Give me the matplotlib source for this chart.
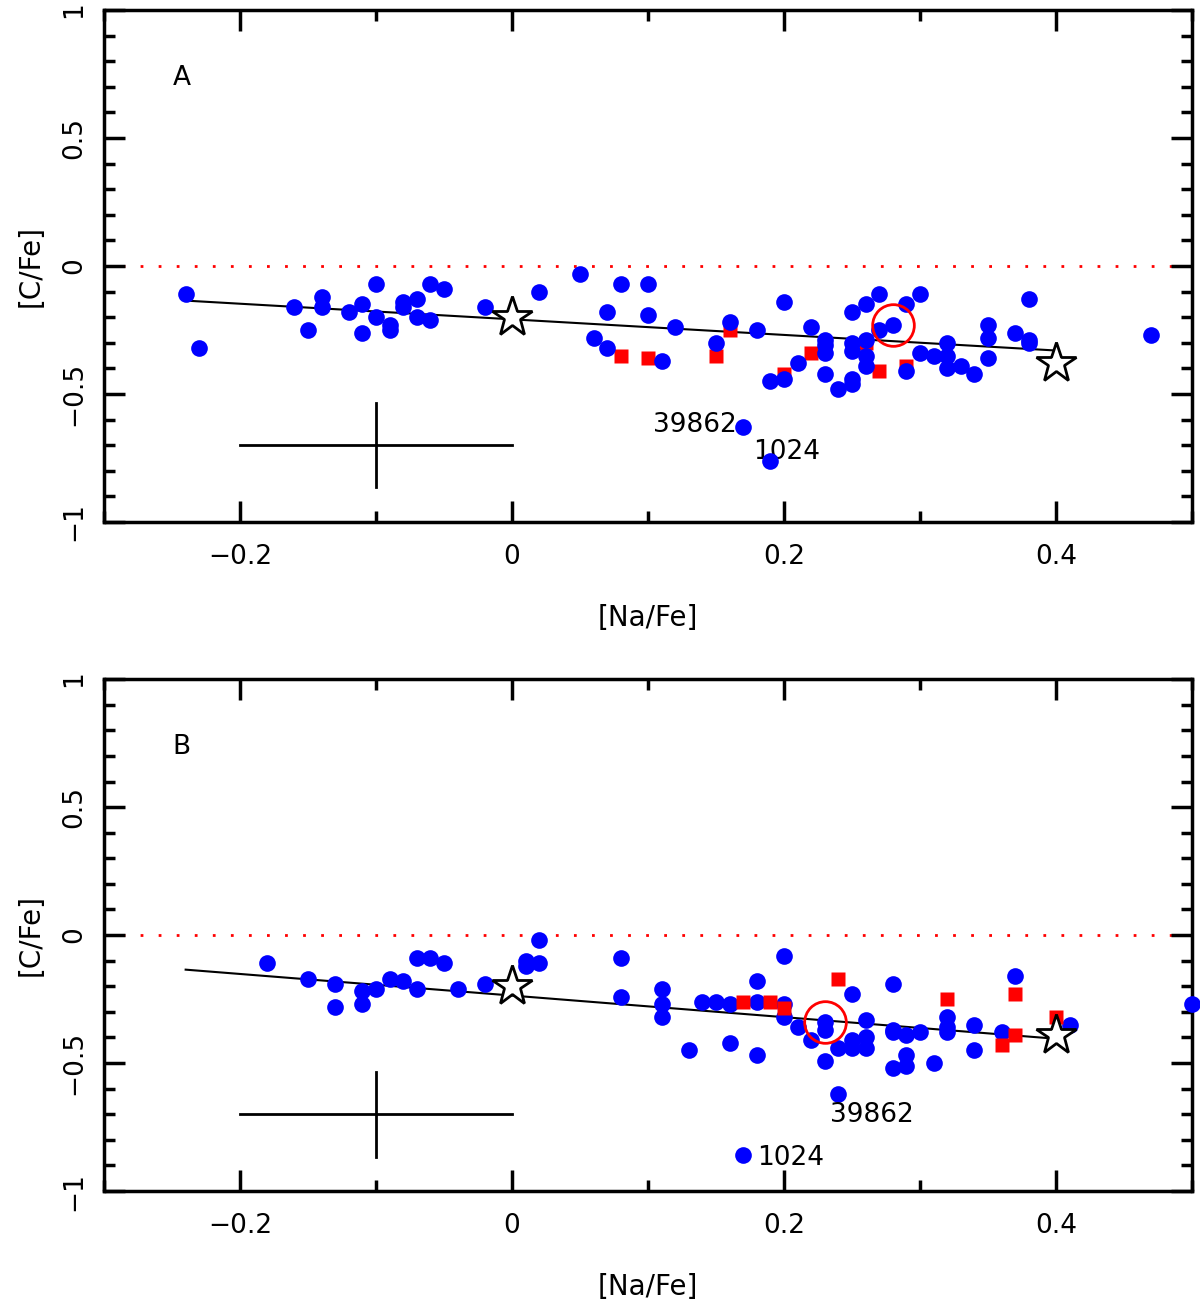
import matplotlib
matplotlib.use("Agg")
import matplotlib.pyplot as plt
from matplotlib.ticker import MultipleLocator

# panel A data ([Na/Fe], [C/Fe])
a_blue_x = [-0.24, -0.23, -0.16, -0.15, -0.14, -0.14, -0.12, -0.11, -0.11, -0.10, -0.10,
            -0.09, -0.09, -0.08, -0.08, -0.07, -0.07, -0.06, -0.06, -0.05, -0.02, 0.02,
            0.05, 0.06, 0.07, 0.07, 0.08, 0.10, 0.10, 0.11, 0.12, 0.15, 0.16, 0.17, 0.18,
            0.19, 0.19, 0.20, 0.20, 0.21, 0.22, 0.23, 0.23, 0.23, 0.23, 0.24, 0.25, 0.25,
            0.25, 0.25, 0.25, 0.26, 0.26, 0.26, 0.26, 0.27, 0.27, 0.28, 0.29, 0.29, 0.30,
            0.30, 0.31, 0.32, 0.32, 0.32, 0.33, 0.34, 0.35, 0.35, 0.35, 0.37, 0.38, 0.38,
            0.38, 0.47]
a_blue_y = [-0.11, -0.32, -0.16, -0.25, -0.12, -0.16, -0.18, -0.15, -0.26, -0.07, -0.20,
            -0.23, -0.25, -0.14, -0.16, -0.13, -0.20, -0.07, -0.21, -0.09, -0.16, -0.10,
            -0.03, -0.28, -0.18, -0.32, -0.07, -0.07, -0.19, -0.37, -0.24, -0.30, -0.22, -0.63, -0.25,
            -0.45, -0.76, -0.14, -0.44, -0.38, -0.24, -0.29, -0.31, -0.34, -0.42, -0.48, -0.18, -0.30,
            -0.33, -0.44, -0.46, -0.15, -0.29, -0.35, -0.39, -0.11, -0.25, -0.23, -0.15, -0.41, -0.11,
            -0.34, -0.35, -0.30, -0.35, -0.40, -0.39, -0.42, -0.23, -0.28, -0.36, -0.26, -0.13, -0.29,
            -0.30, -0.27]
a_red_x = [0.08, 0.10, 0.15, 0.16, 0.20, 0.22, 0.26, 0.27, 0.29]
a_red_y = [-0.35, -0.36, -0.35, -0.25, -0.42, -0.34, -0.30, -0.41, -0.39]
a_star_x = [0.0, 0.40]
a_star_y = [-0.20, -0.38]
a_fit_x = [-0.24, 0.40]
a_fit_y = [-0.135, -0.33]
a_circle = (0.28, -0.23)
a_labels = [("39862", 0.165, -0.62, "right"), ("1024", 0.177, -0.727, "left")]

# panel B data
b_blue_x = [-0.18, -0.15, -0.13, -0.13, -0.11, -0.11, -0.10, -0.09, -0.08, -0.07, -0.07,
            -0.06, -0.05, -0.04, -0.02, 0.01, 0.01, 0.02, 0.02, 0.08, 0.08, 0.11, 0.11,
            0.11, 0.13, 0.14, 0.15, 0.16, 0.16, 0.18, 0.17, 0.18, 0.18, 0.20, 0.20, 0.20,
            0.21, 0.22, 0.23, 0.23, 0.23, 0.24, 0.24, 0.25, 0.25, 0.25, 0.26, 0.26, 0.26,
            0.28, 0.28, 0.28, 0.28, 0.29, 0.29, 0.29, 0.30, 0.31, 0.32, 0.32, 0.32, 0.34,
            0.34, 0.36, 0.37, 0.41, 0.50]
b_blue_y = [-0.11, -0.17, -0.19, -0.28, -0.22, -0.27, -0.21, -0.17, -0.18, -0.09, -0.21,
            -0.09, -0.11, -0.21, -0.19, -0.10, -0.12, -0.11, -0.02, -0.09, -0.24, -0.21, -0.27,
            -0.32, -0.45, -0.26, -0.26, -0.27, -0.42, -0.26, -0.86, -0.18, -0.47, -0.08, -0.27, -0.32,
            -0.36, -0.41, -0.34, -0.37, -0.49, -0.44, -0.62, -0.23, -0.41, -0.44, -0.33, -0.40, -0.44,
            -0.19, -0.37, -0.38, -0.52, -0.39, -0.47, -0.51, -0.38, -0.50, -0.32, -0.36, -0.38, -0.35,
            -0.45, -0.38, -0.16, -0.35, -0.27]
b_red_x = [0.17, 0.19, 0.20, 0.24, 0.32, 0.36, 0.37, 0.37, 0.40]
b_red_y = [-0.26, -0.26, -0.285, -0.17, -0.25, -0.43, -0.39, -0.23, -0.32]
b_star_x = [0.0, 0.40]
b_star_y = [-0.20, -0.39]
b_fit_x = [-0.24, 0.40]
b_fit_y = [-0.135, -0.405]
b_circle = (0.23, -0.34)
b_labels = [("39862", 0.234, -0.703, "left"), ("1024", 0.180, -0.87, "left")]

# typical error bars
err_x, err_y = -0.10, -0.70
err_dx, err_dy = 0.10, 0.165

xticks = [-0.2, 0, 0.2, 0.4]
xticklabels = ["\u22120.2", "0", "0.2", "0.4"]
yticks = [-1, -0.5, 0, 0.5, 1]
yticklabels = ["\u22121", "\u22120.5", "0", "0.5", "1"]

plt.rcParams["font.family"] = ["DejaVu Sans"]
fig = plt.figure(figsize=(12, 13.08), dpi=100)

panels = [
    ([0.0867, 0.6009, 0.9067, 0.3914], "A", a_blue_x, a_blue_y, a_red_x, a_red_y,
     a_star_x, a_star_y, a_fit_x, a_fit_y, a_circle, a_labels, True),
    ([0.0867, 0.0894, 0.9067, 0.3914], "B", b_blue_x, b_blue_y, b_red_x, b_red_y,
     b_star_x, b_star_y, b_fit_x, b_fit_y, b_circle, b_labels, False),
]

for (rect, tag, bx, by, rx, ry, sx, sy, fx, fy, circ, labels, red_below) in panels:
    ax = fig.add_axes(rect)
    ax.set_xlim(-0.3, 0.5)
    ax.set_ylim(-1, 1)

    ax.axhline(0, color="red", lw=2, ls=(0, (1, 5.5)), zorder=1)
    ax.plot(fx, fy, color="black", lw=1.5, zorder=2)

    # red squares sit under the dots in A, over them in B
    zr, zb = (3, 4) if red_below else (4, 3)
    ax.plot(bx, by, "o", color="#0000ff", ms=12, mec="none", zorder=zb, clip_on=False)
    ax.plot(rx, ry, "s", color="#ff0000", ms=10.5, mec="none", zorder=zr)
    ax.plot(sx, sy, "*", mfc="white", mec="black", ms=30, mew=2, zorder=6)
    ax.plot([circ[0]], [circ[1]], "o", mfc="none", mec="red", ms=30, mew=2, zorder=5)

    ax.plot([err_x - err_dx, err_x + err_dx], [err_y, err_y], color="black", lw=2)
    ax.plot([err_x, err_x], [err_y - err_dy, err_y + err_dy], color="black", lw=2)

    for txt, tx, ty, ha in labels:
        ax.text(tx, ty, txt, ha=ha, va="center", fontsize=19)
    ax.text(-0.243, 0.734, tag, ha="center", va="center", fontsize=19)

    ax.set_xticks(xticks)
    ax.set_xticklabels(xticklabels)
    ax.set_yticks(yticks)
    ax.set_yticklabels(yticklabels)
    ax.xaxis.set_minor_locator(MultipleLocator(0.1))
    ax.yaxis.set_minor_locator(MultipleLocator(0.1))
    ax.tick_params(which="both", direction="in", top=True, right=True, width=2.5,
                   labelsize=19)
    ax.tick_params(which="major", length=15)
    ax.tick_params(which="minor", length=8)
    ax.tick_params(axis="x", pad=16)
    ax.tick_params(axis="y", pad=12)
    for lab in ax.get_yticklabels():
        lab.set_rotation(90)
        lab.set_va("center")
    for sp in ax.spines.values():
        sp.set_linewidth(2.5)

    ax.set_xlabel("[Na/Fe]", fontsize=20, labelpad=24)
    ax.set_ylabel("[C/Fe]", fontsize=20, labelpad=12)

fig.savefig("out.png", dpi=100)
